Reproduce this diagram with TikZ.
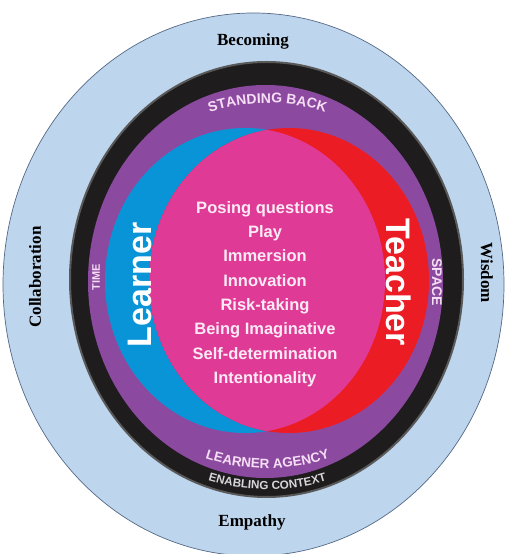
\documentclass[tikz,border=0pt]{standalone}
\usepackage{fontspec}
\setmainfont{Liberation Serif}
\setsansfont{Liberation Sans}
\usetikzlibrary{decorations.text}
\definecolor{skyring}{RGB}{189,213,237}
\definecolor{skyedge}{RGB}{84,104,134}
\definecolor{ctxblack}{RGB}{30,28,29}
\definecolor{agencyp}{RGB}{139,74,160}
\definecolor{learnerb}{RGB}{10,148,216}
\definecolor{teacherr}{RGB}{236,28,36}
\definecolor{overlap}{RGB}{223,59,150}
\definecolor{paletxt}{RGB}{246,222,244}
\definecolor{ctxtxt}{RGB}{216,214,216}

\begin{document}
\begin{tikzpicture}[
  x=1pt, y=1pt,
  virtue/.style={font=\rmfamily\bfseries\fontsize{17}{17}\selectfont, text=black},
  role/.style={font=\sffamily\bfseries\fontsize{34}{34}\selectfont, text=white},
  ringlabel/.style={font=\sffamily\bfseries\fontsize{#1}{#1}\selectfont, text=paletxt},
  arctext/.style 2 args={decorate, decoration={text along path, text align=center,
              text color=#1, text={#2}}},
]
\useasboundingbox (0,0) rectangle (506,554);
\begin{scope}
  \clip (0,0) rectangle (506,554);
  \filldraw[fill=skyring, draw=skyedge, line width=0.7pt] (253.5,269.5) ellipse [x radius=250.5pt, y radius=271.5pt];
\end{scope}
\filldraw[fill=ctxblack, draw=black!65, line width=2pt] (266.5,274.5) ellipse [x radius=196.5pt, y radius=217.5pt];
\fill[agencyp] (265.5,272.5) ellipse [x radius=177.5pt, y radius=196.5pt];
\fill[learnerb] (245,273.5) ellipse [x radius=140pt, y radius=152.5pt];
\fill[teacherr] (289,273.5) ellipse [x radius=140pt, y radius=152.5pt];
\begin{scope}
  \clip (245,273.5) ellipse [x radius=140pt, y radius=152.5pt];
  \fill[overlap] (289,273.5) ellipse [x radius=140pt, y radius=152.5pt];
\end{scope}

\path[shift={(267.5,272.5)}, arctext={paletxt}{|\sffamily\bfseries\fontsize{14}{14}\selectfont|STANDING BACK}]
  (135:182pt and 178.5pt) arc[start angle=135, end angle=45, x radius=182pt, y radius=178.5pt];
\path[shift={(267.5,272.5)}, arctext={paletxt}{|\sffamily\bfseries\fontsize{13.5}{13.5}\selectfont|LEARNER AGENCY}]
  (225:190pt and 187pt) arc[start angle=225, end angle=315, x radius=190pt, y radius=187pt];
\path[shift={(267.5,272.5)}, arctext={ctxtxt}{|\sffamily\bfseries\fontsize{11.7}{11.7}\selectfont|ENABLING CONTEXT}]
  (225:206pt and 208pt) arc[start angle=225, end angle=315, x radius=206pt, y radius=208pt];

\node[role, rotate=90] (learner) at (140,269) {Learner};
\node[role, rotate=-90] (teacher) at (399,272) {Teacher};
\node[ringlabel=11, rotate=90] (time) at (96,277) {TIME};
\node[ringlabel=14, rotate=-90] (space) at (437,272) {SPACE};

\node[font=\sffamily\bfseries\fontsize{16.5}{24.3}\selectfont, text=white!90!overlap, align=center]
  (skills) at (265,260) {Posing questions\\ Play\\ Immersion\\ Innovation\\ Risk-taking\\
  Being Imaginative\\ Self-determination\\ Intentionality};

\node[virtue] (becoming) at (253,513) {Becoming};
\node[virtue] (empathy) at (252,31.5) {Empathy};
\node[virtue, rotate=90] (collab) at (35,277) {Collaboration};
\node[virtue, rotate=-90] (wisdom) at (487,281) {Wisdom};
\end{tikzpicture}
\end{document}
